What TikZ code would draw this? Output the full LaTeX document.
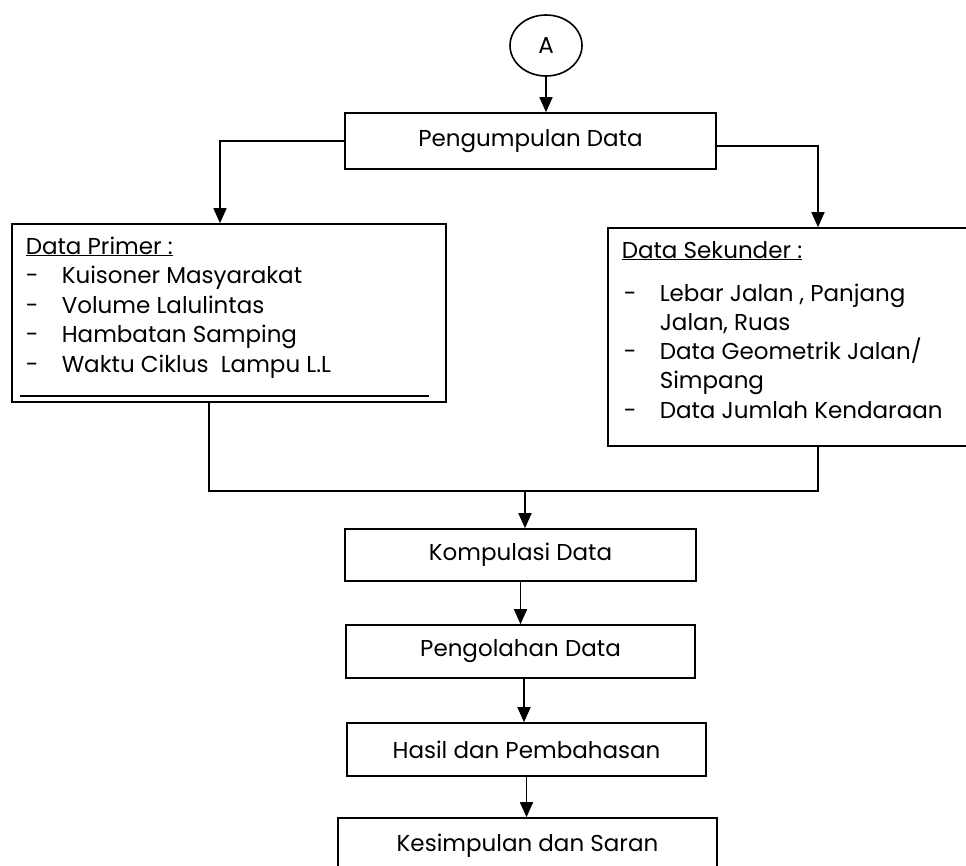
\documentclass[tikz,border=0pt]{standalone}
\usepackage{fontspec}
\setmainfont{Poppins}
\usetikzlibrary{shapes.geometric,arrows.meta}

\begin{document}
\begin{tikzpicture}[x=1pt,y=-1pt,line width=1.6pt,
    box/.style={draw,rectangle,inner sep=0pt},
    txt/.style={anchor=base west,inner sep=0pt},
    item/.style={txt,execute at begin node={\makebox[36pt][l]{-}}},
    >={Triangle[length=15pt,width=13pt]},
    font=\fontsize{23}{29}\selectfont]
  \useasboundingbox (0,0) rectangle (966,865);
  \clip (0,0) rectangle (966,865);

    %main nodes
    \node (A) at (546,45.5)[ellipse,draw,minimum width=72pt,minimum height=61pt]{A};
    \node (PD) at (530.5,141)[box,minimum width=371pt,minimum height=56pt]{Pengumpulan Data};
    \node (DP) at (229,313)[box,minimum width=434pt,minimum height=178pt]{};
    \node (DS) at (799,337)[box,minimum width=382pt,minimum height=218pt]{};
    \node (KD) at (520.5,555)[box,minimum width=351pt,minimum height=52pt]{Kompulasi Data};
    \node (OD) at (520.5,651.5)[box,minimum width=349pt,minimum height=53pt]{Pengolahan Data};
    \node (HP) at (526.5,749.5)[box,minimum width=359pt,minimum height=53pt]{Hasil dan Pembahasan};
    \node (KS) at (527.5,846)[box,minimum width=379pt,minimum height=56pt]{Kesimpulan dan Saran};

    %data primer
    \node (DP0) at (25,254)[txt]{\underline{Data Primer :}};
    \node (DP1) at (25,283)[item]{Kuisoner Masyarakat};
    \node (DP2) at (25,313)[item]{Volume Lalulintas};
    \node (DP3) at (25,342)[item]{Hambatan Samping};
    \node (DP4) at (25,372)[item]{Waktu Ciklus\ \ Lampu L.L};
    \draw [line width=2.4pt] (20,396) -- (429,396);

    %data sekunder
    \node (DS0) at (621,258)[txt]{\underline{Data Sekunder :}};
    \node (DS1) at (623,301)[item]{Lebar Jalan , Panjang};
    \node (DS1b) at (659,330)[txt]{Jalan, Ruas};
    \node (DS2) at (623,359)[item]{Data Geometrik Jalan/};
    \node (DS2b) at (659,388)[txt]{Simpang};
    \node (DS3) at (623,418)[item]{Data Jumlah Kendaraan};

    %arrows
    \draw [->] (A) to (A.south |- PD.north);
    \draw [->] (PD.west) -| ([xshift=-9pt]DP.north);
    \draw [->] ([yshift=-5pt]PD.east) -| ([xshift=19pt]DS.north);
    \draw ([xshift=-20pt]DP.south) -- ++(0,88) coordinate (J) -| ([xshift=19pt]DS.south);
    \draw [->] ([xshift=4.5pt]KD.north |- J) to ([xshift=4.5pt]KD.north);
    \draw [->] (KD) to (OD);
    \draw [->] ([xshift=3.5pt]OD.south) to ([xshift=3.5pt]OD.south |- HP.north);
    \draw [->] (HP.south) to (HP.south |- KS.north);
  \end{tikzpicture}
\end{document}
